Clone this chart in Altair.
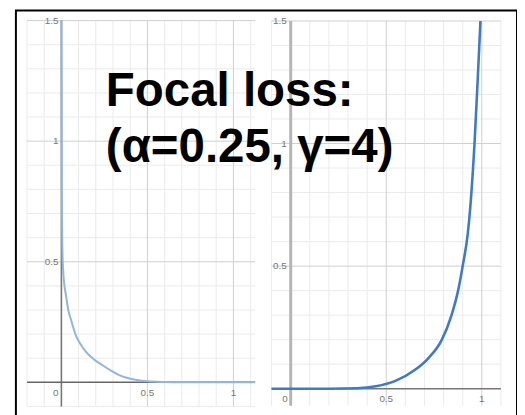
import altair as alt
import pandas as pd

# ---------------- data ----------------
# left panel curve (p, loss)
left_p = [0.001, 0.003, 0.006, 0.01, 0.018, 0.027, 0.04, 0.056, 0.07, 0.084, 0.11,
          0.142, 0.19, 0.237, 0.285, 0.333, 0.38, 0.43, 0.5, 0.6, 0.7, 0.9, 1.126]
left_loss = [1.5, 0.75, 0.55, 0.47, 0.40, 0.36, 0.30, 0.26, 0.225, 0.195, 0.16,
             0.127, 0.095, 0.072, 0.05, 0.031, 0.019, 0.011, 0.004, 0.001, 0.0, 0.0, 0.0]

# right panel curve (p, loss)
right_p = [-0.1, 0.2, 0.35, 0.445, 0.548, 0.651, 0.72, 0.79, 0.841, 0.876, 0.90,
           0.927, 0.94, 0.962, 0.979, 0.993]
right_loss = [0.0, 0.0, 0.002, 0.01, 0.032, 0.077, 0.124, 0.198, 0.298, 0.4, 0.5,
              0.635, 0.742, 1.0, 1.266, 1.5]

# grid values
left_gx_minor = [-0.2, -0.1, 0.1, 0.2, 0.3, 0.4, 0.6, 0.7, 0.8, 0.9, 1.1]
left_gx_major = [0.5, 1.0]
left_gy_minor = [-0.1, 0.1, 0.2, 0.3, 0.4, 0.6, 0.7, 0.8, 0.9, 1.1, 1.2, 1.3, 1.4]
left_gy_major = [0.5, 1.0, 1.5]

right_gx_minor = [-0.1, 0.1, 0.2, 0.3, 0.4, 0.6, 0.7, 0.8, 0.9, 1.1]
right_gx_major = [0.5, 1.0]
right_gy_minor = [0.1, 0.2, 0.3, 0.4, 0.6, 0.7, 0.8, 0.9, 1.1, 1.2, 1.3, 1.4]
right_gy_major = [0.5, 1.0, 1.5]

# tick labels
x_label_vals = [0.5, 1.0]
x_label_text = ["0.5", "1"]
y_label_vals = [0.5, 1.0, 1.5]
y_label_text = ["0.5", "1", "1.5"]
origin_text = "0"

title_lines = ["Focal loss:", "(α=0.25, γ=4)"]

LABEL_FONT = "Liberation Sans"


def panel(xdom, xrng, ydom, yrng, gxmin, gxmaj, gymin, gymaj, cx, cy,
          curve_color, curve_w, yaxis_color, yaxis_w, xaxis_color, xaxis_w,
          ylab_dx, xlab_dy):
    xs = alt.Scale(domain=xdom, range=xrng, nice=False, zero=False)
    ys = alt.Scale(domain=ydom, range=yrng, nice=False, zero=False)

    def X(f):
        return alt.X(f, type="quantitative", scale=xs, axis=None)

    def Y(f):
        return alt.Y(f, type="quantitative", scale=ys, axis=None)

    def vrules(vals, color, w):
        df = pd.DataFrame({"v": vals, "lo": ydom[0], "hi": ydom[1]})
        return alt.Chart(df).mark_rule(color=color, strokeWidth=w).encode(
            x=X("v"), y=Y("lo"), y2="hi")

    def hrules(vals, color, w):
        df = pd.DataFrame({"v": vals, "lo": xdom[0], "hi": xdom[1]})
        return alt.Chart(df).mark_rule(color=color, strokeWidth=w).encode(
            y=Y("v"), x=X("lo"), x2="hi")

    layers = [
        vrules(gxmin, "#ebebeb", 1),
        hrules(gymin, "#ebebeb", 1),
        vrules(gxmaj, "#cfcfcf", 1),
        hrules(gymaj, "#cfcfcf", 1),
        vrules([0.0], yaxis_color, yaxis_w),
        hrules([0.0], xaxis_color, xaxis_w),
    ]

    curve = alt.Chart(pd.DataFrame({"p": cx, "loss": cy})).mark_line(
        color=curve_color, strokeWidth=curve_w, interpolate="monotone"
    ).encode(x=X("p"), y=Y("loss"), order="p:Q")
    layers.append(curve)

    xl = pd.DataFrame({"x": x_label_vals, "y": 0.0, "t": x_label_text})
    layers.append(alt.Chart(xl).mark_text(
        font=LABEL_FONT, fontSize=10, color="#777", dy=xlab_dy, baseline="middle"
    ).encode(x=X("x"), y=Y("y"), text="t:N"))

    ol = pd.DataFrame({"x": [0.0], "y": [0.0], "t": [origin_text]})
    layers.append(alt.Chart(ol).mark_text(
        font=LABEL_FONT, fontSize=10, color="#777", dy=xlab_dy, dx=-3,
        align="right", baseline="middle"
    ).encode(x=X("x"), y=Y("y"), text="t:N"))

    yl = pd.DataFrame({"x": 0.0, "y": y_label_vals, "t": y_label_text})
    layers.append(alt.Chart(yl).mark_text(
        font=LABEL_FONT, fontSize=10, color="#777", dx=ylab_dx,
        align="right", baseline="middle"
    ).encode(x=X("x"), y=Y("y"), text="t:N"))

    return alt.layer(*layers)


left = panel([-0.2, 1.126], [11.2, 242], [-0.1, 1.5], [400.7, 10.3],
             left_gx_minor, left_gx_major, left_gy_minor, left_gy_major,
             left_p, left_loss, "#93b4dd", 2, "#777777", 1.6, "#666666", 1.5,
             -3, 11)

right = panel([-0.1, 1.1], [258.7, 490.7], [-0.07, 1.5], [400.1, 10.7],
              right_gx_minor, right_gx_major, right_gy_minor, right_gy_major,
              right_p, right_loss, "#4079c6", 2.6, "#b5b5b5", 3, "#777777", 1.5,
              -4, 10)

chart = alt.layer(left, right).resolve_scale(
    x="independent", y="independent"
).properties(
    width=507,
    height=412,
    autosize=alt.AutoSizeParams(type="none"),
    padding={"left": 8, "top": 0, "right": 0, "bottom": 0},
    title=alt.TitleParams(
        text=title_lines, anchor="start", frame="group", orient="top",
        offset=0, dx=91, dy=163, baseline="top",
        font="Liberation Sans", fontSize=48, fontWeight="bold",
        lineHeight=56, color="black",
    ),
).configure_view(stroke="black", strokeWidth=2)

chart.save("out.html", embed_options={"renderer": "svg", "actions": False})
